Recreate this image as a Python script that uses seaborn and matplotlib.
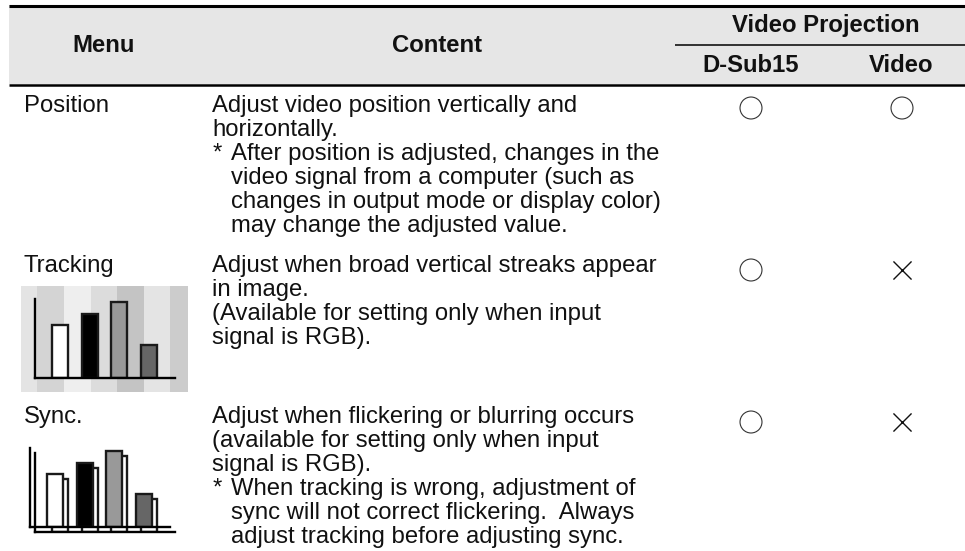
import matplotlib
matplotlib.use("Agg")
import matplotlib.pyplot as plt
import pandas as pd
import seaborn as sns

# Table content
menus = ["Position", "Tracking", "Sync."]
content_position = ["Adjust video position vertically and", "horizontally.",
                    "* |After position is adjusted, changes in the",
                    "video signal from a computer (such as",
                    "changes in output mode or display color)",
                    "may change the adjusted value."]
content_tracking = ["Adjust when broad vertical streaks appear", "in image.",
                    "(Available for setting only when input", "signal is RGB)."]
content_sync = ["Adjust when flickering or blurring occurs",
                "(available for setting only when input", "signal is RGB).",
                "* |When tracking is wrong, adjustment of",
                "sync will not correct flickering.  Always",
                "adjust tracking before adjusting sync."]
dsub15_marks = ["o", "o", "o"]
video_marks = ["o", "x", "x"]

# Icon data
bar_names = ["a", "b", "c", "d"]
bar_heights = [53, 64, 76, 33]
bar_colors = ["#ffffff", "#000000", "#999999", "#666666"]
ghost_colors = ["#ffffff", "#ffffff", "#ffffff", "#ffffff"]
stripe_edges = [21, 37, 64, 91, 117, 144, 170, 188]
stripe_colors = ["#e4e4e4", "#d4d4d4", "#eeeeee", "#dcdcdc", "#c4c4c4", "#e4e4e4", "#cccccc"]

# Layout, pixels from the top left
W, H = 965, 551
ROW_Y = [108, 270, 422]
COL_X = {"D-Sub15": 751, "Video": 902}
FS = 17.2
INK = "#111111"

sns.set_theme(style="white")
plt.rcParams["font.family"] = ["Liberation Sans", "DejaVu Sans"]

fig = plt.figure(figsize=(W / 100, H / 100), dpi=100)
ax = fig.add_axes([0, 0, 1, 1])
ax.set_xlim(0, W)
ax.set_ylim(H, 0)
ax.axis("off")

# header band and rules
ax.fill_between([9, W], 5, 84, color="#e6e6e6", lw=0, zorder=0)
ax.plot([9, W], [5.5, 5.5], color="#000000", lw=2.2, solid_capstyle="butt")
ax.plot([9, W], [84.5, 84.5], color="#000000", lw=1.8, solid_capstyle="butt")
ax.plot([675, W], [44.5, 44.5], color="#000000", lw=1.1, solid_capstyle="butt")


def header(x, y, label):
    ax.text(x, y, label, fontsize=FS, fontweight="bold", color=INK, ha="center", va="baseline")


header(104, 52, "Menu")
header(437, 52, "Content")
header(826, 32, "Video Projection")
header(751, 72, "D-Sub15")
header(901, 72, "Video")


def body(lines, first_y, hanging=False):
    for i, line in enumerate(lines):
        y = first_y + i * 24
        if line.startswith("* |"):
            ax.text(213, y, "*", fontsize=FS, color=INK, va="baseline")
            ax.text(231, y, line[3:], fontsize=FS, color=INK, va="baseline")
            hanging = True
        else:
            ax.text(231 if hanging else 212, y, line, fontsize=FS, color=INK, va="baseline")


for name, y in zip(menus, [112, 272, 423]):
    ax.text(24, y, name, fontsize=FS, color=INK, va="baseline")
body(content_position, 112)
body(content_tracking, 272)
body(content_sync, 423)

# circle and cross marks
marks = pd.DataFrame({
    "x": [COL_X["D-Sub15"]] * 3 + [COL_X["Video"]] * 3,
    "y": ROW_Y * 2,
    "mark": dsub15_marks + video_marks,
})
sns.scatterplot(data=marks[marks["mark"] == "o"], x="x", y="y", marker="o", s=250,
                facecolor="none", edgecolor="#333333", linewidth=0.8, ax=ax, legend=False)
sns.scatterplot(data=marks[marks["mark"] == "x"], x="x", y="y", marker="x", s=170,
                color="#111111", linewidth=1.0, ax=ax, legend=False)
ax.set_xlim(0, W)
ax.set_ylim(H, 0)
ax.axis("off")

# tracking icon stripes
for left, right, shade in zip(stripe_edges[:-1], stripe_edges[1:], stripe_colors):
    ax.fill_between([left, right], 286, 392, color=shade, lw=0, zorder=0)


def bar_icon(left, baseline, colors):
    # little bar chart, 140 wide and 79 tall with the axis corner at left, baseline
    a = fig.add_axes([left / W, 1 - baseline / H, 140 / W, 79 / H])
    a.patch.set_alpha(0)
    df = pd.DataFrame({"name": bar_names, "height": bar_heights})
    sns.barplot(data=df, x="name", y="height", hue="name", palette=colors, width=0.54,
                edgecolor="#1a1a1a", linewidth=1.7, saturation=1, legend=False, ax=a)
    a.set_xlim(-0.845, 3.885)
    a.set_ylim(0, 79)
    a.set_xlabel("")
    a.set_ylabel("")
    a.set_xticks([])
    a.set_yticks([])
    sns.despine(ax=a)
    for side in ["left", "bottom"]:
        a.spines[side].set_linewidth(1.7)
        a.spines[side].set_color("#000000")
        a.spines[side].set_visible(True)
    return a


bar_icon(35, 378, bar_colors)
# sync icon is the same chart twice, slightly offset
bar_icon(35, 532, ghost_colors)
bar_icon(30, 527, bar_colors)

fig.savefig("out.png", dpi=100, facecolor="white")
